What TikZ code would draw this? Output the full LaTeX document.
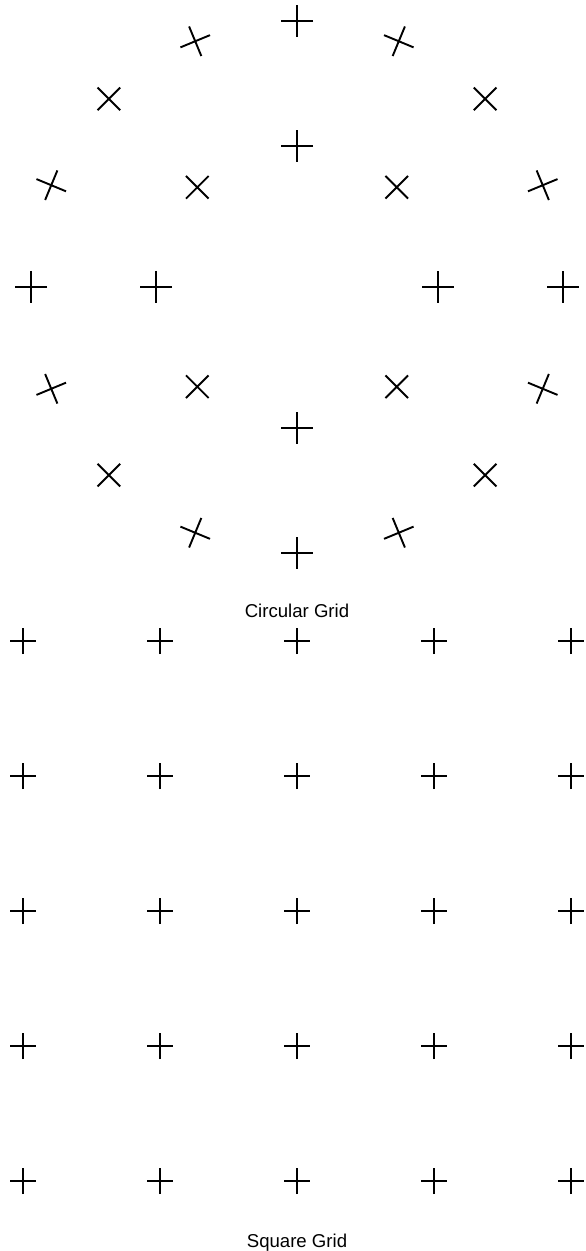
\documentclass[tikz,border=0pt]{standalone}
\usepackage{fontspec}
\setmainfont{Liberation Sans}

\begin{document}
\begin{tikzpicture}[x=0.5pt,y=0.5pt,
    tick/.style={line width=0.95pt, line cap=butt},
    caption/.style={font=\fontsize{9.3}{11}\selectfont, anchor=base}]
\useasboundingbox (0,0) rectangle (585,-1251);
% Radii and arm lengths of the markers
\def\outerR{266}
\def\innerR{141}
\def\armC{16}
\def\armS{13}

% --- Circular grid ---
\begin{scope}[shift={(297,-287)}]
  \foreach \a in {0,22.5,...,337.5}{
    \begin{scope}[shift={(\a:\outerR)}, rotate=\a]
      \draw[tick] (-\armC,0) -- (\armC,0) (0,-\armC) -- (0,\armC);
    \end{scope}
  }
  \foreach \a in {0,45,...,315}{
    \begin{scope}[shift={(\a:\innerR)}, rotate=\a]
      \draw[tick] (-\armC,0) -- (\armC,0) (0,-\armC) -- (0,\armC);
    \end{scope}
  }
\end{scope}
\node[caption] (circcap) at (297,-617) {Circular Grid};

% --- Square grid ---
\begin{scope}[shift={(23,-641)}]
  \foreach \i in {0,...,4}
    \foreach \j in {0,...,4}
      \draw[tick] (137*\i-\armS,-135*\j) -- (137*\i+\armS,-135*\j)
                  (137*\i,-135*\j-\armS) -- (137*\i,-135*\j+\armS);
\end{scope}
\node[caption] (sqcap) at (297,-1247) {Square Grid};
\end{tikzpicture}
\end{document}
